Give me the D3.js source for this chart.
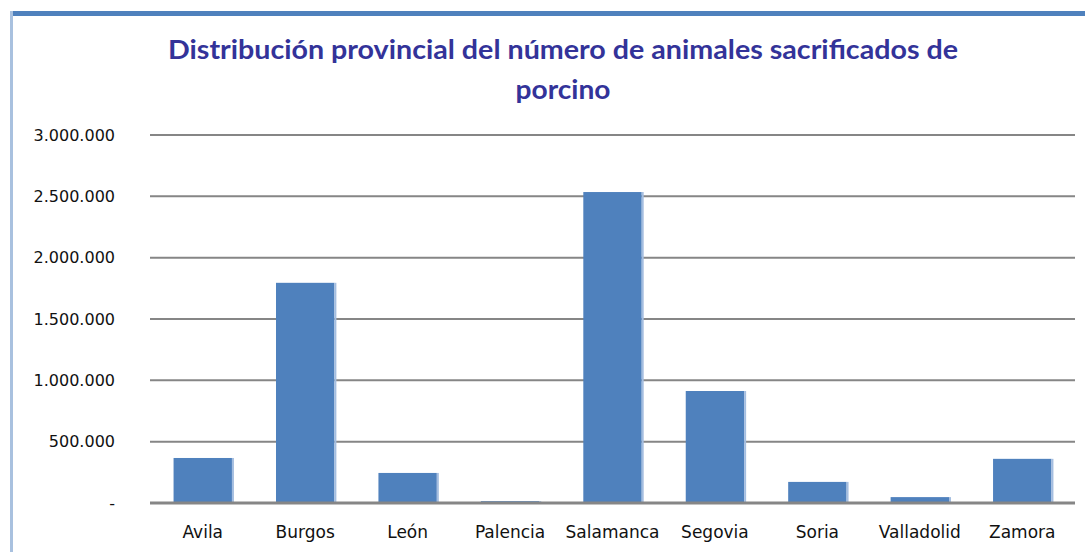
<!DOCTYPE html>
<html>
<head>
<meta charset="utf-8">
<script src="https://cdn.jsdelivr.net/npm/d3@7"></script>
<style>
body { margin: 0; background: #fff; }
svg { display: block; }
</style>
</head>
<body>
<div id="chart"></div>
<script>
// data
var provincias = ["Avila", "Burgos", "León", "Palencia", "Salamanca", "Segovia", "Soria", "Valladolid", "Zamora"];
var sacrificados = [367000, 1795000, 245000, 15000, 2535000, 913000, 172000, 48000, 360000];
var yTicks = [0, 500000, 1000000, 1500000, 2000000, 2500000, 3000000];
var titleLines = ["Distribución provincial del número de animales sacrificados de", "porcino"];

var W = 1085, H = 552;
var margin = {top: 135, right: 10, bottom: 49, left: 150};
var width = W - margin.left - margin.right;
var height = H - margin.top - margin.bottom;

var svg = d3.select("#chart").append("svg")
	.attr("width", W)
	.attr("height", H);

// frame of the original sheet
svg.append("rect")
	.attr("x", 10).attr("y", 11)
	.attr("width", W - 10).attr("height", 5)
	.style("fill", "#4F81BD");
svg.append("rect")
	.attr("x", 10).attr("y", 11)
	.attr("width", 3).attr("height", H - 11)
	.style("fill", "#A9C1DF");

// title
svg.selectAll(".title")
	.data(titleLines)
	.enter().append("text")
	.attr("class", "title")
	.attr("x", 563)
	.attr("y", (d, i) => 59 + i * 40)
	.attr("text-anchor", "middle")
	.attr("textLength", (d, i) => i == 0 ? 790 : 95)
	.attr("lengthAdjust", "spacingAndGlyphs")
	.style("font-family", "Lato, 'Open Sans', sans-serif")
	.style("font-weight", "bold")
	.style("font-size", "27px")
	.style("fill", "#333399")
	.text(d => d);

var g = svg.append("g")
	.attr("transform", "translate(" + margin.left + "," + margin.top + ")");

var x = d3.scaleBand().domain(provincias).range([0, width]).paddingInner(0.43).paddingOuter(0.23);
var y = d3.scaleLinear().domain([0, 3000000]).range([height, 0]);
var fmt = v => v == 0 ? "-" : d3.format(",d")(v).replace(/,/g, ".");

// gridlines
g.selectAll(".grid")
	.data(yTicks.slice(1))
	.enter().append("line")
	.attr("class", "grid")
	.attr("x1", 0).attr("x2", width)
	.attr("y1", d => y(d)).attr("y2", d => y(d))
	.style("stroke", "#868686")
	.style("stroke-width", 2);

// bars
var bars = g.selectAll(".bar")
	.data(sacrificados)
	.enter().append("g")
	.attr("class", "bar");

bars.append("rect")
	.attr("x", (d, i) => x(provincias[i]))
	.attr("y", d => y(d))
	.attr("width", x.bandwidth())
	.attr("height", d => height - y(d))
	.style("fill", "#4F81BD");

bars.append("rect")
	.attr("x", (d, i) => x(provincias[i]) + x.bandwidth())
	.attr("y", d => y(d))
	.attr("width", 2)
	.attr("height", d => height - y(d))
	.style("fill", "#A5BEE0");

// baseline
g.append("line")
	.attr("x1", 0).attr("x2", width)
	.attr("y1", y(0)).attr("y2", y(0))
	.style("stroke", "#868686")
	.style("stroke-width", 3);

// y labels
g.selectAll(".ylab")
	.data(yTicks)
	.enter().append("text")
	.attr("class", "ylab")
	.attr("x", -35)
	.attr("y", d => y(d))
	.attr("dy", "0.35em")
	.attr("text-anchor", "end")
	.style("font-family", "'DejaVu Sans', sans-serif")
	.style("font-size", "16px")
	.style("fill", "#111")
	.text(fmt);

// x labels
g.selectAll(".xlab")
	.data(provincias)
	.enter().append("text")
	.attr("class", "xlab")
	.attr("x", d => x(d) + x.bandwidth() / 2)
	.attr("y", height + 35)
	.attr("text-anchor", "middle")
	.style("font-family", "'DejaVu Sans', sans-serif")
	.style("font-size", "17px")
	.style("fill", "#111")
	.text(d => d);
</script>
</body>
</html>
